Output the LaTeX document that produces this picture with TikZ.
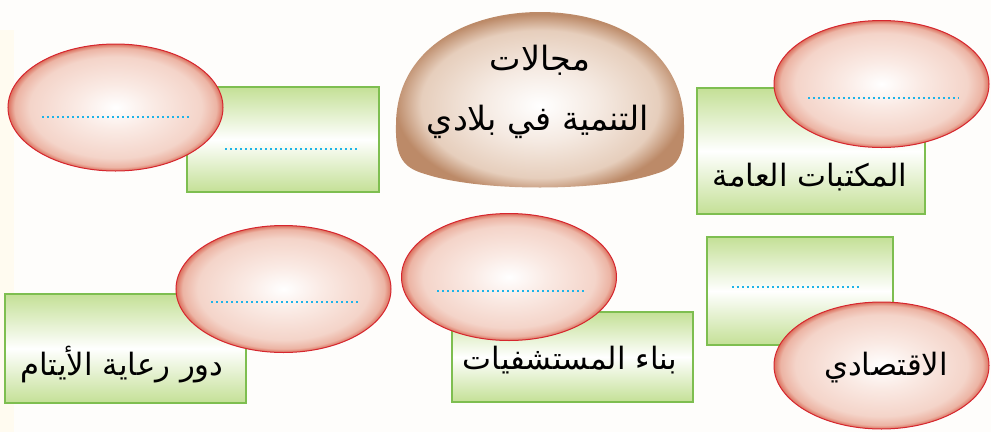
\documentclass[tikz,border=0pt]{standalone}
\usepackage{fontspec}
\usetikzlibrary{shapes.geometric}
\TeXXeTstate=1
\newfontfamily\arabicfont[Script=Arabic]{DejaVu Sans}

\definecolor{bgcream}{RGB}{254,253,251}
\definecolor{stripcream}{RGB}{255,251,240}
\definecolor{ovalB}{RGB}{250,234,228}
\definecolor{ovalC}{RGB}{244,212,201}
\definecolor{ovalD}{RGB}{236,180,164}
\definecolor{ovalE}{RGB}{220,112,94}
\definecolor{ovalrim}{RGB}{214,38,46}
\definecolor{boxgreen}{RGB}{196,224,150}
\definecolor{boxrim}{RGB}{126,190,80}
\definecolor{domeB}{RGB}{245,234,226}
\definecolor{domeC}{RGB}{230,206,188}
\definecolor{domeD}{RGB}{188,138,104}
\definecolor{dotcyan}{RGB}{30,180,232}

\pgfdeclareradialshading{ovalshade}{\pgfpoint{0bp}{0bp}}{color(0bp)=(white); color(9bp)=(ovalB); color(20bp)=(ovalC); color(23.5bp)=(ovalD); color(25bp)=(ovalE); color(50bp)=(ovalE)}
\pgfdeclareradialshading{domeshade}{\pgfpoint{0bp}{-1bp}}{color(0bp)=(white); color(10bp)=(domeB); color(20.5bp)=(domeC); color(25bp)=(domeD); color(50bp)=(domeD)}

\begin{document}
\begin{tikzpicture}[x=0.2mm,y=-0.2mm,
  oval/.style={ellipse,draw=ovalrim,line width=0.2mm,shading=ovalshade,
    minimum width=43mm,minimum height=25.4mm,inner sep=0pt},
  greenbox/.style={rectangle,draw=boxrim,line width=0.25mm,top color=boxgreen,
    bottom color=boxgreen,middle color=white,inner sep=0pt},
  blank/.style={draw=dotcyan,line width=0.35mm,dash pattern=on 0.35mm off 0.65mm},
  artext/.style={font=\arabicfont\fontsize{17.5}{21}\selectfont,inner sep=0pt}]
\useasboundingbox (0,0) rectangle (991,432);
\fill[bgcream] (0,0) rectangle (991,432);
\fill[stripcream] (0,30) rectangle (14,432);

% centre dome
\shade[shading=domeshade] (540,12) .. controls (615,12) and (684,50) .. (684,125)
  .. controls (685,158) and (676,168) .. (655,174)
  .. controls (600,192) and (480,192) .. (425,174)
  .. controls (404,168) and (395,158) .. (396,125)
  .. controls (396,50) and (465,12) .. (540,12);
\node[artext,font=\arabicfont\fontsize{19}{23}\selectfont] (title1) at (540,60) {\beginR مجالات\endR};
\node[artext,font=\arabicfont\fontsize{19}{23}\selectfont] (title2) at (538,122) {\beginR التنمية في بلادي\endR};

% boxes
\node[greenbox,minimum width=38.4mm,minimum height=21mm] (box1) at (283,139.5) {};
\node[greenbox,minimum width=45.6mm,minimum height=25.2mm] (box2) at (811,151) {};
\node[greenbox,minimum width=48.2mm,minimum height=21.8mm] (box3) at (125.5,348.5) {};
\node[greenbox,minimum width=48.2mm,minimum height=18mm] (box4) at (572.5,357) {};
\node[greenbox,minimum width=37.2mm,minimum height=21.6mm] (box5) at (800,291) {};

% ovals
\node[oval] (oval1) at (115.5,107.5) {};
\node[oval] (oval2) at (881.5,84) {};
\node[oval] (oval3) at (283.5,289) {};
\node[oval] (oval4) at (509,277) {};
\node[oval] (oval5) at (881.5,365.5) {};

% blanks to fill in
\draw[blank] (42,117) -- (191,117);
\draw[blank] (225,149) -- (360,149);
\draw[blank] (808,98) -- (959,98);
\draw[blank] (211,302) -- (361,302);
\draw[blank] (437,291) -- (587,291);
\draw[blank] (732,287) -- (861,287);

% texts
\node[artext] (libtxt) at (810,177) {\beginR المكتبات العامة\endR};
\node[artext] (orphtxt) at (122,365) {\beginR دور رعاية الأيتام\endR};
\node[artext] (hosptxt) at (570,360) {\beginR بناء المستشفيات\endR};
\node[artext] (ecotxt) at (886,368) {\beginR الاقتصادي\endR};
\end{tikzpicture}
\end{document}
